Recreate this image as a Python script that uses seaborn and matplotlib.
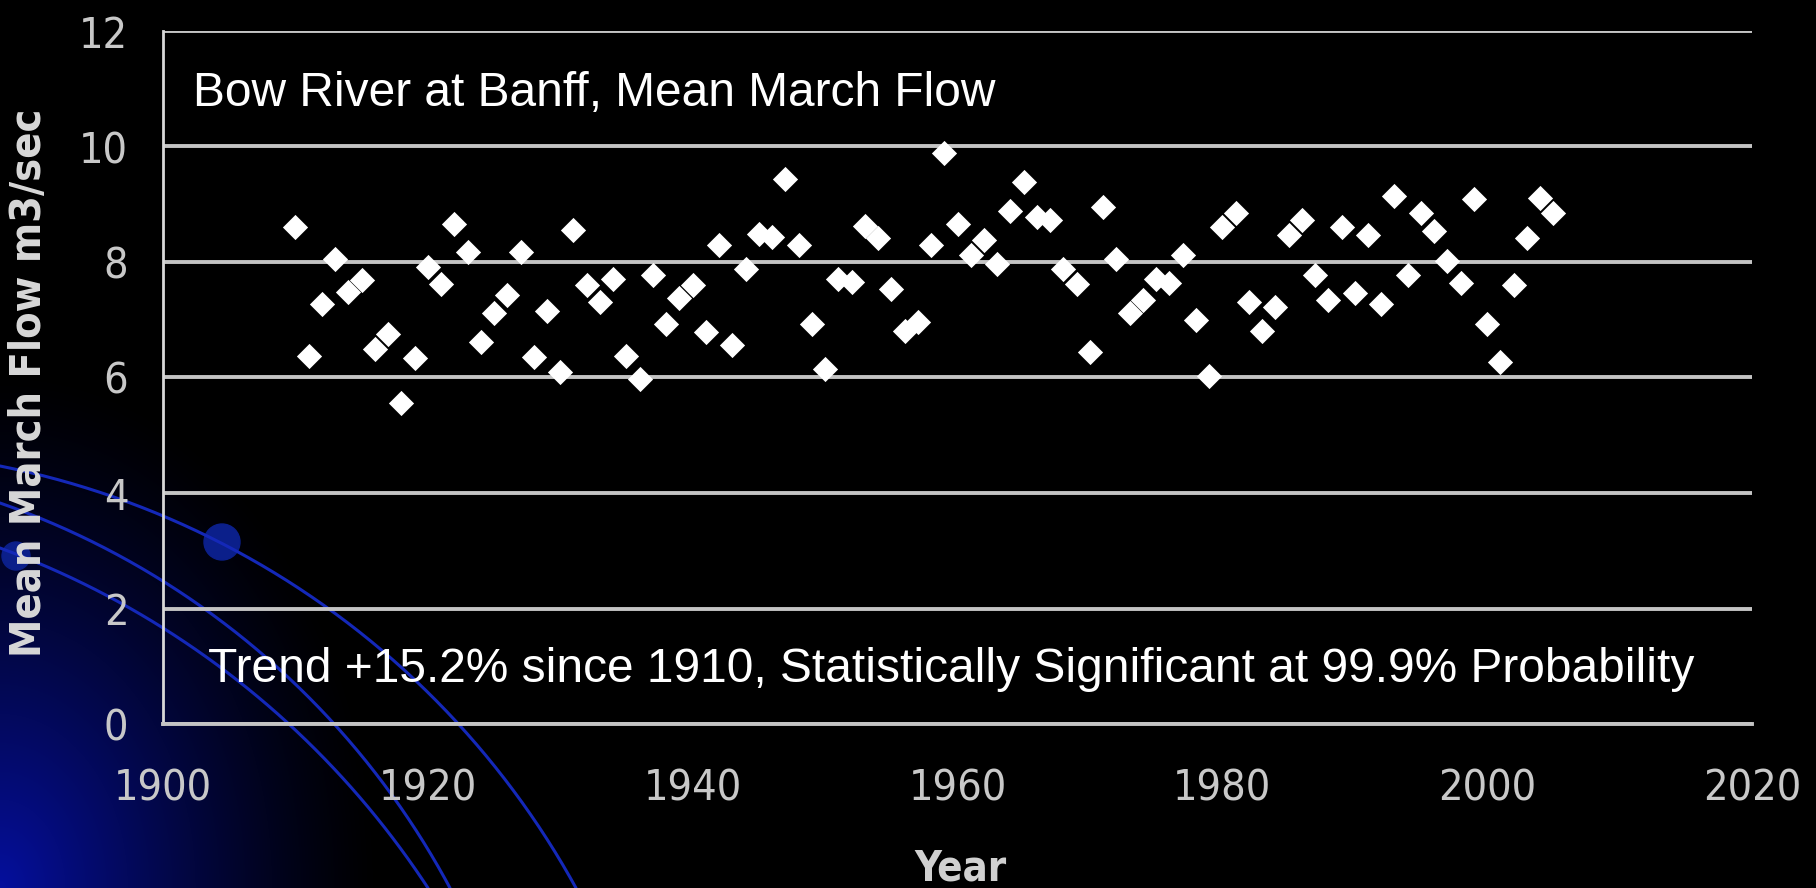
import numpy as np
import pandas as pd
import matplotlib
matplotlib.use("Agg")
import matplotlib.pyplot as plt
import seaborn as sns

# Bow River at Banff, mean March flow (m3/s)
years = list(range(1910, 2006))
flow = [
    8.61, 6.38, 7.28, 8.06, 7.48, 7.68, 6.50, 6.76, 5.55, 6.33,  # 1910s
    7.91, 7.62, 8.66, 8.17, 6.61, 7.11, 7.42, 8.17, 6.35, 7.16,  # 1920s
    6.10, 8.55, 7.60, 7.31, 7.71, 6.38, 5.98, 7.77, 6.93, 7.37,  # 1930s
    7.60, 6.79, 8.30, 6.56, 7.88, 8.49, 8.43, 9.44, 8.30, 6.93,  # 1940s
    6.15, 7.71, 7.65, 8.62, 8.42, 7.54, 6.80, 6.96, 8.30, 9.88,  # 1950s
    8.66, 8.12, 8.38, 7.97, 8.89, 9.39, 8.78, 8.72, 7.88, 7.62,  # 1960s
    6.44, 8.95, 8.06, 7.11, 7.34, 7.71, 7.64, 8.12, 6.99, 6.03,  # 1970s
    8.61, 8.85, 7.30, 6.80, 7.22, 8.46, 8.72, 7.77, 7.34, 8.61,  # 1980s
    7.47, 8.47, 7.28, 9.14, 7.77, 8.85, 8.53, 8.01, 7.64, 9.09,  # 1990s
    6.93, 6.26, 7.60, 8.42, 9.10, 8.84,                          # 2000s
]
x_ticks = [1900, 1920, 1940, 1960, 1980, 2000, 2020]
y_ticks = [0, 2, 4, 6, 8, 10, 12]

title_text = "Bow River at Banff, Mean March Flow"
trend_text = "Trend +15.2% since 1910, Statistically Significant at 99.9% Probability"

df = pd.DataFrame({"Year": years, "Flow": flow})

sns.set_style("dark", {"axes.facecolor": "none", "figure.facecolor": "black",
                       "axes.edgecolor": "white", "grid.color": "#c4c4c4"})
plt.rcParams["font.family"] = ["Liberation Sans", "DejaVu Sans"]
narrow = dict(family="DejaVu Sans", stretch="condensed")

W, H = 1816, 888
fig = plt.figure(figsize=(W / 100, H / 100), dpi=100, facecolor="black")

# slide decoration: blue glow bottom-left and thin arcs
bg = fig.add_axes([0, 0, 1, 1], zorder=-5)
bg.set_xlim(0, W)
bg.set_ylim(H, 0)
bg.axis("off")
gx, gy = np.meshgrid(np.arange(W), np.arange(H))
r = np.sqrt((gx / 380.0) ** 2 + ((H - gy) / 520.0) ** 2)
k = np.clip(1 - r, 0, 1) ** 1.3
img = np.dstack([k * 0.02, k * 0.06, k * 0.62])
bg.imshow(img, extent=(0, W, H, 0), aspect="auto", interpolation="bilinear")


def circle_through(p1, p2, p3):
    (x1, y1), (x2, y2), (x3, y3) = p1, p2, p3
    a = np.array([[x2 - x1, y2 - y1], [x3 - x1, y3 - y1]], dtype=float)
    b = 0.5 * np.array([x2**2 - x1**2 + y2**2 - y1**2, x3**2 - x1**2 + y3**2 - y1**2])
    cx, cy = np.linalg.solve(a, b)
    return cx, cy, np.hypot(x1 - cx, y1 - cy)


arcs = [((0, 466), (223, 544), (576, 888)),
        ((0, 503), (291, 680), (450, 888)),
        ((0, 548), (237, 680), (428, 888))]
for p1, p2, p3 in arcs:
    cx, cy, rad = circle_through(p1, p2, p3)
    a1 = np.arctan2(p1[1] - cy, p1[0] - cx)
    a3 = np.arctan2(p3[1] - cy, p3[0] - cx)
    t = np.linspace(a1, a3, 300)
    bg.plot(cx + rad * np.cos(t), cy + rad * np.sin(t), color="#1428b8", lw=2.2)
bg.add_patch(plt.Circle((222, 542), 18, color="#0b1f8a"))
bg.add_patch(plt.Circle((16, 556), 14, color="#0b1f8a"))

ax = fig.add_axes([163 / W, 1 - 724 / H, (1752 - 163) / W, (724 - 31) / H])
ax.set_facecolor("none")
sns.scatterplot(data=df, x="Year", y="Flow", marker="D", s=165, color="white",
                linewidth=0, ax=ax, zorder=5)

ax.set_xlim(1900, 2020)
ax.set_ylim(0, 12)
ax.set_xticks(x_ticks)
ax.set_yticks(y_ticks)
ax.yaxis.grid(True, color="#c4c4c4", lw=2.8)
ax.xaxis.grid(False)
for s in ["top", "right"]:
    ax.spines[s].set_visible(False)
ax.spines["left"].set_color("#d8d8d8")
ax.spines["left"].set_linewidth(2)
ax.spines["bottom"].set_color("#c4c4c4")
ax.spines["bottom"].set_linewidth(2.8)
ax.tick_params(axis="x", direction="out", length=11, width=1.6, color="#c8c8c8", pad=20)
ax.tick_params(axis="y", direction="out", length=9, width=1.6, color="#c8c8c8", pad=16)
for lab in ax.get_xticklabels() + ax.get_yticklabels():
    lab.set_family(narrow["family"])
    lab.set_stretch(narrow["stretch"])
    lab.set_fontsize(31)
    lab.set_color("#c8c8c8")

ax.set_xlabel("Year", fontsize=30, fontweight="bold", color="#d0d0d0", **narrow)
ax.xaxis.label.set_verticalalignment("baseline")
ax.xaxis.set_label_coords(0.502, -0.226)
ax.set_ylabel("Mean March Flow m3/sec", fontsize=31, fontweight="bold",
              color="#d8d8d8", **narrow)
ax.yaxis.set_label_coords(-0.071, 0.493)

ax.text(1902.3, 10.92, title_text, fontsize=34.5, color="white", va="center", ha="left")
ax.text(1903.4, 0.95, trend_text, fontsize=34.5, color="white", va="center", ha="left", zorder=6)

fig.savefig("out.png", dpi=100, facecolor="black")
